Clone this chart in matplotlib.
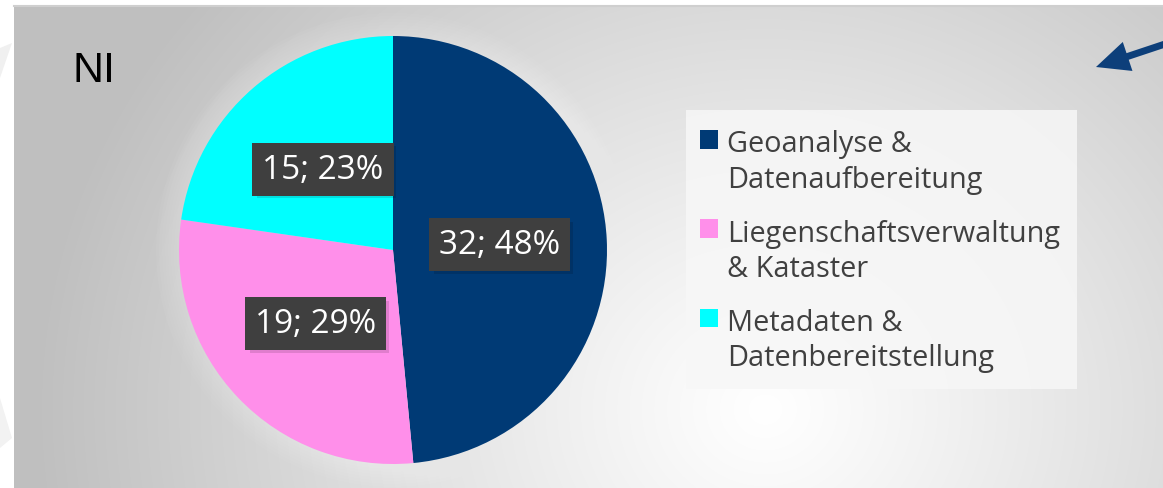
import numpy as np
import matplotlib.pyplot as plt
from matplotlib.patches import Patch, Polygon, Circle, Rectangle
from matplotlib.legend_handler import HandlerPatch

# categories and counts
categories = ['Geoanalyse &\nDatenaufbereitung',
              'Liegenschaftsverwaltung\n& Kataster',
              'Metadaten &\nDatenbereitstellung']
counts = [32, 19, 15]
colors = ['#003a75', '#ff8fea', '#00ffff']
title = 'NI'

W, H = 1163, 489
fig = plt.figure(figsize=(W / 100, H / 100), dpi=100)
fig.patch.set_facecolor('white')

# background gradient panel
bg = fig.add_axes([0, 0, 1, 1])
bg.set_xlim(0, W)
bg.set_ylim(0, H)
bg.axis('off')
yy, xx = np.mgrid[0:H, 0:W]
yy = H - yy
d = np.sqrt((xx - 760) ** 2 + ((yy - 80) / 0.9) ** 2)
shade = 1.0 - 0.25 * np.clip(d / 740, 0, 1) ** 1.1
img = np.dstack([shade] * 3)
bg.imshow(img, extent=(14, W, 0, H - 7), origin='upper', zorder=0, aspect='auto')
bg.plot([14, W], [H - 7, H - 7], color='#cfcfcf', lw=1.5, zorder=1)
# faint decorations in the left margin
bg.add_patch(Polygon([[0, 440], [12, 445], [0, 410]], closed=True, fc='#f0f0f0', ec='none'))
bg.add_patch(Polygon([[0, 90], [12, 50], [0, 40]], closed=True, fc='#f2f2f2', ec='none'))

# pie in pixel coordinates
cx, cy, r = 393, H - 251, 214
for k in range(8):
    bg.add_patch(Circle((cx, cy), r + 2 + k * 3, fc='white', ec='none', alpha=0.04, zorder=1))

ax = fig.add_axes([0, 0, 1, 1])
ax.patch.set_alpha(0)

wedges = ax.pie(counts, colors=colors, startangle=90, counterclock=False,
                radius=r, center=(cx, cy), wedgeprops=dict(linewidth=0))[0]
total = sum(counts)
for w, v in zip(wedges, counts):
    a = np.deg2rad((w.theta1 + w.theta2) / 2)
    pct = 100 * v / total
    tx, ty = cx + 0.5 * r * np.cos(a), cy + 0.5 * r * np.sin(a)
    # soft drop shadow behind the label box
    ax.add_patch(Rectangle((tx - 66, ty - 29), 139, 52, fc='black', ec='none', alpha=0.12))
    ax.text(tx, ty, f'{v}; {pct:.0f}%',
            ha='center', va='center', color='white', fontsize=24,
            family='Open Sans',
            bbox=dict(boxstyle='square,pad=0.3', fc='#3f3f3f', ec='none'))
ax.set_xlim(0, W)
ax.set_ylim(0, H)
ax.set_aspect('equal')
ax.axis('off')

ax.text(72, H - 71, title, fontsize=31, family='Liberation Sans', va='center', ha='left', color='black')

# arrow at top right
ax.annotate('', xy=(1096, H - 68), xytext=(1168, H - 44),
            arrowprops=dict(width=5, headwidth=22, headlength=24, color='#0d3f7a', lw=0))


# legend squares sit next to the first line of each label
def top_square(legend, orig_handle, xdescent, ydescent, width, height, fontsize):
    return Rectangle((-xdescent, -ydescent + 16.5), width, height)


ax.add_patch(Rectangle((686, H - 390), 391, 279, fc='#f7f7f7', ec='none', alpha=0.85))
handles = [Patch(fc=c, ec='none') for c in colors]
leg = ax.legend(handles, categories, loc='upper left',
                bbox_to_anchor=(686 / W, (H - 116) / H), frameon=False,
                labelcolor='#404040', handlelength=0.62, handleheight=0.62,
                handletextpad=0.3, labelspacing=0.85, borderpad=0,
                handler_map={Patch: HandlerPatch(patch_func=top_square)},
                prop={'family': 'Open Sans', 'size': 20.8})
for t in leg.get_texts():
    t.set_linespacing(1.3)

fig.savefig('out.png', dpi=100)
